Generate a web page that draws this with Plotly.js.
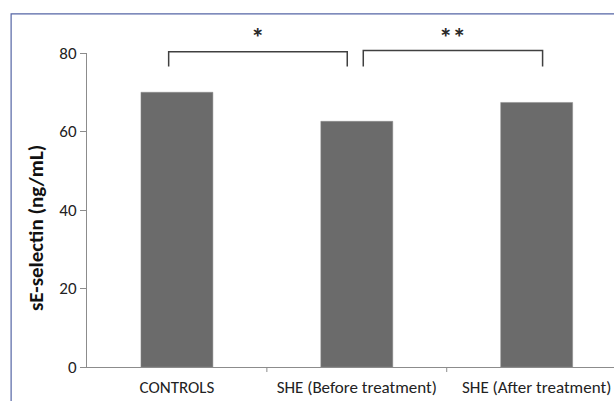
<!DOCTYPE html>
<html>
<head>
<meta charset="utf-8">
<script src="https://cdn.plot.ly/plotly-3.0.1.min.js"></script>
<style>
html,body{margin:0;padding:0;background:#fff;}
#chart{width:614px;height:401px;}
</style>
</head>
<body>
<div id="chart"></div>
<script>
var categories = ["CONTROLS", "SHE (Before treatment)", "SHE (After treatment)"];
var values = [70.0, 62.6, 67.4];
var yTicks = [0, 20, 40, 60, 80];
var yTitle = "sE-selectin (ng/mL)";
// significance brackets: from category index, to category index, label
var sigFrom = [0, 1];
var sigTo = [1, 2];
var sigLabels = ["*", "**"];

var font = "Carlito, 'Liberation Sans Narrow', 'Open Sans', sans-serif";

var shapes = [];
var annotations = [];
var brOffL = [-0.046, 0.036];
var brOffR = [-0.053, 0.033];
var brTop = [1.004, 1.008];
for (var i = 0; i < sigFrom.length; i++) {
  var x0 = sigFrom[i] + brOffL[i], x1 = sigTo[i] + brOffR[i];
  shapes.push({
    type: "path", xref: "x", yref: "paper",
    path: "M" + x0 + ",0.957 L" + x0 + "," + brTop[i] + " L" + x1 + "," + brTop[i] + " L" + x1 + ",0.957",
    line: {color: "#404040", width: 1.5}
  });
  annotations.push({
    x: (x0 + x1) / 2, y: 1.049, xref: "x", yref: "paper",
    xanchor: "center", yanchor: "middle",
    text: "<b>" + sigLabels[i] + "</b>", showarrow: false,
    font: {family: font, size: 27, color: "#2a2a2a"}
  });
}
// y-axis title as rotated text
annotations.push({
  x: -0.0968, y: 0.4426, xref: "paper", yref: "paper",
  xanchor: "center", yanchor: "middle", textangle: -90,
  text: "<b>" + yTitle + "</b>", showarrow: false,
  font: {family: font, size: 21, color: "#111"}
});
// outer chart frame
shapes.push({
  type: "path", xref: "paper", yref: "paper",
  path: "M-0.144,-0.2 L-0.144,1.1245 L1.2,1.1245",
  line: {color: "#5565a5", width: 1.2}
});

var trace = {
  type: "bar",
  x: [0, 1, 2],
  y: values,
  width: 0.4,
  marker: {color: "#6b6b6b", line: {color: "#8a8a8a", width: 0.5}},
  hoverinfo: "none"
};

var layout = {
  width: 614, height: 401,
  margin: {l: 87, r: 0, t: 53, b: 34},
  paper_bgcolor: "#fff", plot_bgcolor: "#fff",
  showlegend: false,
  xaxis: {
    range: [-0.5, 2.43],
    tickmode: "array",
    tickvals: [0, 1, 2],
    ticktext: categories,
    ticks: "",
    ticklabelstandoff: 5,
    showgrid: false, zeroline: false,
    showline: true, linecolor: "#8c8c8c", linewidth: 1,
    tickfont: {family: font, size: 17, color: "#222"},
    fixedrange: true
  },
  yaxis: {
    range: [0, 80],
    tickmode: "array",
    tickvals: yTicks,
    ticks: "outside", ticklen: 6, tickcolor: "#8c8c8c", tickwidth: 1,
    showgrid: false, zeroline: false,
    showline: true, linecolor: "#8c8c8c", linewidth: 1,
    tickfont: {family: font, size: 17, color: "#222"},
    fixedrange: true
  },
  shapes: shapes,
  annotations: annotations
};
// x boundary ticks
[0.5, 1.5].forEach(function (b) {
  layout.shapes.push({type: "line", xref: "x", yref: "paper", x0: b, x1: b, y0: 0, y1: -0.016, line: {color: "#8c8c8c", width: 1}});
});

Plotly.newPlot("chart", [trace], layout, {displayModeBar: false, staticPlot: true});
</script>
</body>
</html>
